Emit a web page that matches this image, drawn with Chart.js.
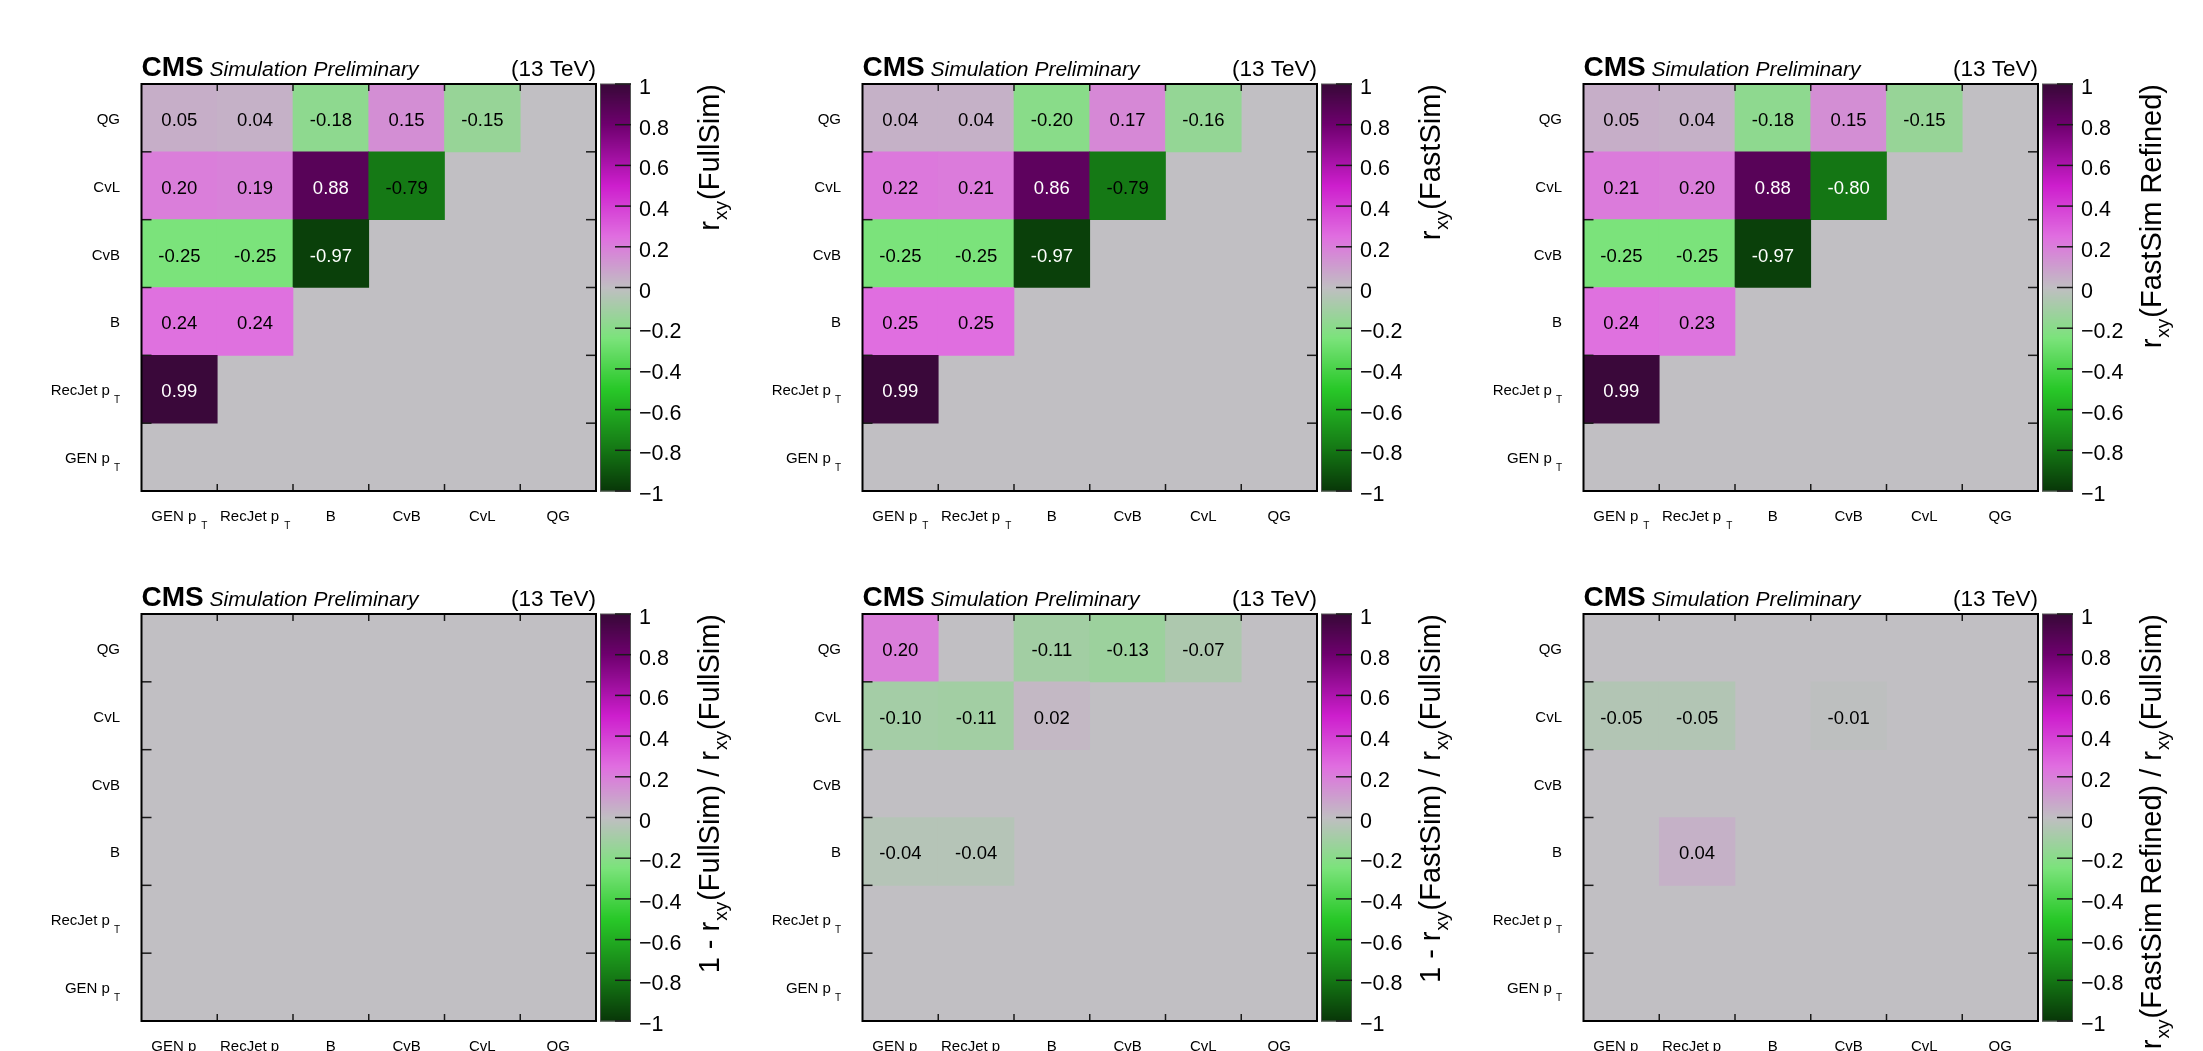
<!DOCTYPE html>
<html>
<head>
<meta charset="utf-8">
<script src="https://cdn.jsdelivr.net/npm/chart.js@4.4.1/dist/chart.umd.min.js"></script>
<style>
  html, body { margin: 0; padding: 0; background: #ffffff; width: 2203px; height: 1051px; overflow: hidden; }
  canvas { position: absolute; }
</style>
</head>
<body>
<canvas id="p0"></canvas>
<canvas id="p1"></canvas>
<canvas id="p2"></canvas>
<canvas id="p3"></canvas>
<canvas id="p4"></canvas>
<canvas id="p5"></canvas>
<script>
// Tagger input variables (same order on both axes; rows run from bottom to top)
const VARIABLES = ['GEN p_{T}', 'RecJet p_{T}', 'B', 'CvB', 'CvL', 'QG'];

// Correlation coefficients r_xy; each inner array is one y variable
// (GEN pT, RecJet pT, B, CvB, CvL, QG), columns follow VARIABLES.
const R_FULLSIM = [
  [null, null, null, null, null, null],
  [0.99, null, null, null, null, null],
  [0.24, 0.24, null, null, null, null],
  [-0.25, -0.25, -0.97, null, null, null],
  [0.20, 0.19, 0.88, -0.79, null, null],
  [0.05, 0.04, -0.18, 0.15, -0.15, null]
];
const R_FASTSIM = [
  [null, null, null, null, null, null],
  [0.99, null, null, null, null, null],
  [0.25, 0.25, null, null, null, null],
  [-0.25, -0.25, -0.97, null, null, null],
  [0.22, 0.21, 0.86, -0.79, null, null],
  [0.04, 0.04, -0.20, 0.17, -0.16, null]
];
const R_REFINED = [
  [null, null, null, null, null, null],
  [0.99, null, null, null, null, null],
  [0.24, 0.23, null, null, null, null],
  [-0.25, -0.25, -0.97, null, null, null],
  [0.21, 0.20, 0.88, -0.80, null, null],
  [0.05, 0.04, -0.18, 0.15, -0.15, null]
];

// Relative differences 1 - r_xy(sample) / r_xy(FullSim); empty cells are zero
const DIFF_FULLSIM = [
  [null, null, null, null, null, null],
  [null, null, null, null, null, null],
  [null, null, null, null, null, null],
  [null, null, null, null, null, null],
  [null, null, null, null, null, null],
  [null, null, null, null, null, null]
];
const DIFF_FASTSIM = [
  [null, null, null, null, null, null],
  [null, null, null, null, null, null],
  [-0.04, -0.04, null, null, null, null],
  [null, null, null, null, null, null],
  [-0.10, -0.11, 0.02, null, null, null],
  [0.20, null, -0.11, -0.13, -0.07, null]
];
const DIFF_REFINED = [
  [null, null, null, null, null, null],
  [null, null, null, null, null, null],
  [null, 0.04, null, null, null, null],
  [null, null, null, null, null, null],
  [-0.05, -0.05, null, -0.01, null, null],
  [null, null, null, null, null, null]
];

// Colour-axis titles and tick values
const Z_TITLES = [
  'r_{xy}(FullSim)',
  'r_{xy}(FastSim)',
  'r_{xy}(FastSim Refined)',
  '1 - r_{xy}(FullSim) / r_{xy}(FullSim)',
  '1 - r_{xy}(FastSim) / r_{xy}(FullSim)',
  '1 - r_{xy}(FastSim Refined) / r_{xy}(FullSim)'
];
const Z_TICKS = [-1, -0.8, -0.6, -0.4, -0.2, 0, 0.2, 0.4, 0.6, 0.8, 1];

// Diverging green - grey - magenta palette
const PAL_STOPS = [-1, -0.8, -0.5, -0.25, 0, 0.25, 0.5, 0.8, 1];
const PAL_RGB = [
  [8, 55, 8], [20, 118, 20], [40, 200, 40], [123, 227, 123],
  [192, 190, 194],
  [224, 110, 224], [205, 30, 205], [110, 0, 110], [55, 8, 55]
];
const EMPTY_COLOR = '#c1bfc3';
const FONT = '"Liberation Sans", Arial, Helvetica, sans-serif';

function colorFor(v) {
  v = Math.max(-1, Math.min(1, v));
  let i = 0;
  while (i < PAL_STOPS.length - 2 && v > PAL_STOPS[i + 1]) i++;
  const t = (v - PAL_STOPS[i]) / (PAL_STOPS[i + 1] - PAL_STOPS[i]);
  const a = PAL_RGB[i], b = PAL_RGB[i + 1];
  const c = a.map((x, k) => Math.round(x + (b[k] - x) * t));
  return `rgb(${c[0]},${c[1]},${c[2]})`;
}

// Minimal "_{...}" subscript markup
function richSegments(s) {
  const out = [];
  const re = /_\{([^}]*)\}/g;
  let last = 0, m;
  while ((m = re.exec(s))) {
    if (m.index > last) out.push({ text: s.slice(last, m.index), sub: false });
    out.push({ text: m[1], sub: true });
    last = re.lastIndex;
  }
  if (last < s.length) out.push({ text: s.slice(last), sub: false });
  return out;
}
function drawRich(ctx, s, x, y, st, align) {
  const items = [];
  let cx = 0;
  for (const sg of richSegments(s)) {
    const font = sg.sub ? st.subFont : st.font;
    ctx.font = font;
    if (sg.sub) cx += st.gapBefore;
    items.push({ text: sg.text, font, dx: cx, dy: sg.sub ? st.drop : 0 });
    cx += ctx.measureText(sg.text).width;
    if (sg.sub) cx += st.gapAfter;
  }
  const x0 = align === 'right' ? x - cx : align === 'center' ? x - cx / 2 : x;
  ctx.textAlign = 'left';
  ctx.textBaseline = 'alphabetic';
  for (const it of items) {
    ctx.font = it.font;
    ctx.fillText(it.text, x0 + it.dx, y + it.dy);
  }
}
function line(ctx, x0, y0, x1, y1) {
  ctx.beginPath(); ctx.moveTo(x0, y0); ctx.lineTo(x1, y1); ctx.stroke();
}
function zLabel(v) {
  if (v === 0) return '0';
  const s = Math.abs(v) === 1 ? '1' : Math.abs(v).toFixed(1);
  return (v < 0 ? '\u2212' : '') + s;
}

const LABEL_STYLE_Y = { font: `15px ${FONT}`, subFont: `10px ${FONT}`, drop: 7.5, gapBefore: 4, gapAfter: 0 };
const LABEL_STYLE_X = { font: `15px ${FONT}`, subFont: `10px ${FONT}`, drop: 7.5, gapBefore: 5, gapAfter: 0 };
const TITLE_STYLE = { font: `29px ${FONT}`, subFont: `19px ${FONT}`, drop: 8, gapBefore: 1, gapAfter: 1 };

// Plot decorations: background, cell texts, frame, ticks, labels, colour bar, header
const rootStyle = {
  id: 'rootStyle',
  beforeDatasetsDraw(chart) {
    const { ctx, chartArea: a } = chart;
    ctx.save();
    ctx.fillStyle = EMPTY_COLOR;
    ctx.fillRect(a.left, a.top, a.right - a.left, a.bottom - a.top);
    ctx.restore();
  },
  afterDatasetsDraw(chart, args, opts) {
    const { ctx, chartArea: a } = chart;
    const xs = chart.scales.x, ys = chart.scales.y, zs = chart.scales.z;
    const values = opts.values;
    ctx.save();

    // cell contents
    ctx.font = `18.5px ${FONT}`;
    ctx.textAlign = 'center';
    ctx.textBaseline = 'alphabetic';
    chart.data.datasets.forEach((ds, r) => {
      const meta = chart.getDatasetMeta(r);
      meta.data.forEach((el, c) => {
        const v = values[r][c];
        if (v == null) return;
        ctx.fillStyle = Math.abs(v) >= 0.8 ? '#ffffff' : '#000000';
        ctx.fillText(v.toFixed(2), el.x, (el.y + el.base) / 2 + 8);
      });
    });

    // frame and tick marks
    const n = VARIABLES.length;
    ctx.strokeStyle = '#1a1a1a';
    ctx.lineWidth = 1.5;
    for (let i = 1; i < n; i++) {
      const px = (xs.getPixelForValue(i - 1) + xs.getPixelForValue(i)) / 2;
      line(ctx, px, a.top, px, a.top + 7);
      line(ctx, px, a.bottom, px, a.bottom - 7);
      const py = ys.getPixelForValue(i);
      line(ctx, a.left, py, a.left + 10, py);
      line(ctx, a.right, py, a.right - 10, py);
    }
    ctx.strokeStyle = '#000000';
    ctx.lineWidth = 2;
    ctx.strokeRect(a.left, a.top, a.right - a.left, a.bottom - a.top);

    // axis labels
    ctx.fillStyle = '#000000';
    VARIABLES.forEach((lab, i) => {
      drawRich(ctx, lab, xs.getPixelForValue(i), a.bottom + 30, LABEL_STYLE_X, 'center');
      drawRich(ctx, lab, a.left - 21.5, ys.getPixelForValue(i + 0.5) + 6, LABEL_STYLE_Y, 'right');
    });

    // colour bar
    const zTop = zs.getPixelForValue(1), zBot = zs.getPixelForValue(-1);
    const x0 = a.right + 4, x1 = a.right + 35;
    for (let y = Math.floor(zTop); y < zBot; y++) {
      ctx.fillStyle = colorFor(zs.getValueForPixel(y + 0.5));
      ctx.fillRect(x0, y, x1 - x0, 1.5);
    }
    ctx.strokeStyle = '#555555';
    ctx.lineWidth = 1;
    ctx.strokeRect(x0 + 0.5, zTop, x1 - x0 - 1, zBot - zTop);
    ctx.strokeStyle = '#1a1a1a';
    ctx.lineWidth = 1.5;
    ctx.font = `21.5px ${FONT}`;
    ctx.fillStyle = '#000000';
    ctx.textAlign = 'left';
    Z_TICKS.forEach(t => {
      const py = zs.getPixelForValue(t);
      line(ctx, x1 - 16, py, x1, py);
      ctx.fillText(zLabel(t), x1 + 8, py + 10);
    });

    // colour-axis title, read bottom to top, ending at the top of the bar
    ctx.save();
    ctx.translate(x1 + 88, zTop);
    ctx.rotate(-Math.PI / 2);
    drawRich(ctx, opts.title, 0, 0, TITLE_STYLE, 'right');
    ctx.restore();

    // header
    const yb = a.top - 8;
    ctx.textAlign = 'left';
    ctx.font = `bold 28px ${FONT}`;
    ctx.fillText('CMS', a.left, yb);
    ctx.font = `italic 21px ${FONT}`;
    ctx.fillText('Simulation Preliminary', a.left + 68, yb);
    ctx.textAlign = 'right';
    ctx.font = `22.5px ${FONT}`;
    ctx.fillText('(13 TeV)', a.right, yb);

    ctx.restore();
  }
};

const PANELS = [
  { id: 'p0', values: R_FULLSIM, title: Z_TITLES[0] },
  { id: 'p1', values: R_FASTSIM, title: Z_TITLES[1] },
  { id: 'p2', values: R_REFINED, title: Z_TITLES[2] },
  { id: 'p3', values: DIFF_FULLSIM, title: Z_TITLES[3] },
  { id: 'p4', values: DIFF_FASTSIM, title: Z_TITLES[4] },
  { id: 'p5', values: DIFF_REFINED, title: Z_TITLES[5] }
];

PANELS.forEach((p, k) => {
  const canvas = document.getElementById(p.id);
  const W = 761, H = 530;
  canvas.width = W; canvas.height = H;
  canvas.style.width = W + 'px'; canvas.style.height = H + 'px';
  canvas.style.left = (k % 3) * 721 + 'px';
  canvas.style.top = Math.floor(k / 3) * 530 + 'px';

  // one floating-bar dataset per row: each cell spans [row, row + 1]
  const datasets = p.values.map((row, r) => ({
    data: row.map(v => (v == null ? null : [r, r + 1])),
    backgroundColor: c => colorFor(row[c.dataIndex] ?? 0),
    borderWidth: 0,
    grouped: false,
    barPercentage: 1,
    categoryPercentage: 1
  }));

  new Chart(canvas, {
    type: 'bar',
    data: { labels: VARIABLES, datasets },
    options: {
      responsive: false,
      animation: false,
      devicePixelRatio: 1,
      layout: { padding: { left: 141.5, top: 84, right: 165, bottom: 39 } },
      scales: {
        x: { type: 'category', offset: true, display: false },
        y: { type: 'linear', min: 0, max: VARIABLES.length, display: false },
        z: { type: 'linear', axis: 'y', position: 'right', min: -1, max: 1, display: false }
      },
      plugins: {
        legend: { display: false },
        tooltip: { enabled: false },
        rootStyle: { values: p.values, title: p.title }
      }
    },
    plugins: [rootStyle]
  });
});
</script>
</body>
</html>
